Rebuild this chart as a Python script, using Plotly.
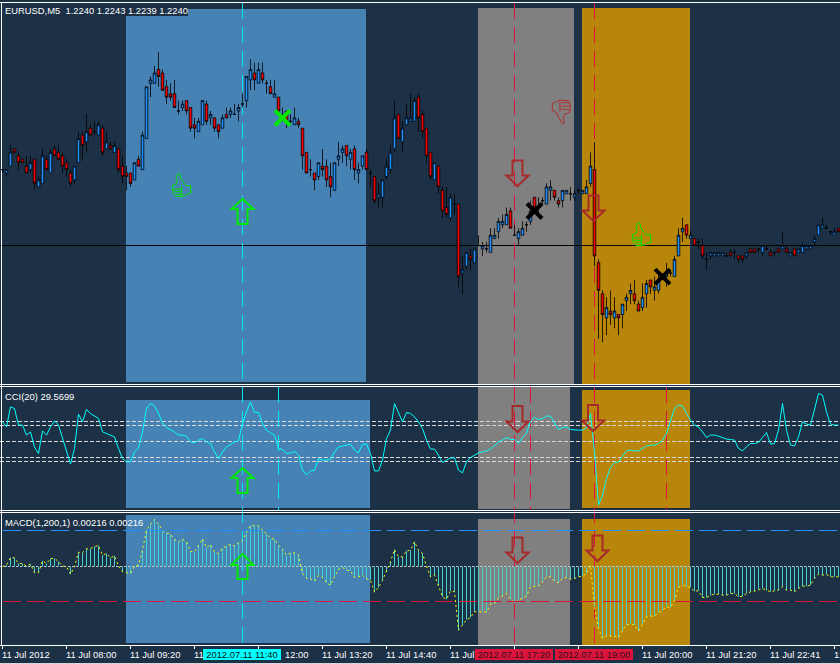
import numpy as np
import plotly.graph_objects as go

# ---------- data ----------
BASE_PRICE = 1.2240
open_pips = [22,21,23,28,26,25,23,22,25,17, 18,25,21,28,27,26,24,21,19,24, 32,30,34,33,32,34,28,29,27,28,
 23,21,21,19,25,22,31,47,47,51, 50,46,44,44,39,40,42,40,35,33, 35,41,37,37,35,34,38,38,38,39,
 41,42,48,50,47,50,47,46,43,43, 37,39,36,35,36,34,27,22,21,20, 23,23,20,16,25,27,29,25,28,21,
 23,27,21,20,14,14,20,22,28,38, 30,35,36,36,43,38,34,27,19,23, 16,11,8,12,12,-8,-6,-3,-5,0,
 -1,-1,-2,2,4,6,6,10,3,2, 3,6,7,14,11,13,12,16,16,13, 13,15,15,14,16,15,15,18,22,-5,
 -14,-21,-19,-21,-20,-20,-16,-14,-14,-17, -18,-14,-10,-13,-13,-9,-9,-8,-9,-3, 4,6,2,2,1,0,-4,-3,-3,-3,
 -3,-3,-2,-2,-3,-3,-3,-1,-1,-1, -2,-1,-2,-2,-1,-1,-1,-3,-1,-2, -2,-1,-1,1,3,5,5,4,3,5]
high_pips = [22,22,29,28,27,25,26,26,25,20, 28,26,28,29,29,27,25,22,23,33, 33,38,35,36,36,35,33,30,30,28,
 26,23,21,24,26,33,46,49,52,56, 51,48,47,48,42,42,42,40,37,37, 42,42,39,37,35,38,40,40,41,41,
 44,49,54,53,53,53,48,48,48,43, 40,39,38,40,37,34,27,25,21,24, 28,25,24,24,30,29,29,28,29,24,
 26,28,22,20,18,19,25,29,42,38, 36,41,44,43,44,39,34,27,24,23, 17,17,15,15,12,-3,-2,-1,-1,3,
 1,1,5,5,8,9,11,11,6,5, 7,7,13,14,14,14,18,19,16,14, 16,16,17,16,16,16,19,27,30,-4,
 -13,-15,-13,-15,-20,-17,-14,-11,-10,-16, -11,-10,-10,-9,-8,-8,-5,-7,-3,5, 8,6,4,2,2,2,-2,-2,-2,-2,
 -2,-2,-1,-1,-3,-3,-2,-1,-1,-1, 0,0,-1,-2,-1,4,0,-2,-1,-1, 1,0,0,3,6,8,6,4,5,5]
low_pips = [21,20,23,27,22,24,21,21,16,17, 18,22,21,26,25,21,20,17,18,24, 25,27,32,32,32,26,28,28,27,21,
 18,16,17,19,23,22,31,43,47,46, 45,41,42,40,38,39,38,33,31,33, 35,35,35,33,31,34,37,37,38,36,
 40,40,45,45,47,47,44,44,43,38, 36,34,35,35,34,22,21,20,16,19, 20,17,14,16,23,24,23,22,19,18,
 22,22,17,12,11,11,19,21,27,31, 27,35,36,36,33,31,24,19,19,15, 8,8,7,9,-12,-14,-7,-7,-5,0,
 -3,-2,-2,2,2,5,6,5,3,0, 3,4,6,11,9,12,12,13,13,11, 11,15,13,13,15,15,15,17,-6,-27,
 -28,-26,-23,-24,-26,-24,-19,-17,-17,-19, -19,-18,-14,-16,-14,-10,-12,-9,-9,-3, 1,2,2,0,-1,-4,-7,-4,-3,-3,
 -3,-3,-3,-4,-5,-5,-4,-2,-2,-2, -3,-1,-3,-3,-2,-1,-2,-3,-3,-2, -2,-1,-1,0,3,5,5,3,3,4]
close_pips = [22,22,27,27,24,24,21,24,18,19, 26,22,27,26,25,23,22,18,23,31, 29,33,32,33,35,27,30,28,29,22,
 20,20,18,24,23,32,46,48,50,49, 45,43,43,40,39,41,39,34,34,36, 42,36,38,34,33,37,37,39,38,40,
 41,49,51,48,51,48,47,44,44,39, 38,36,36,37,35,26,21,22,19,24, 22,19,17,24,26,28,26,27,22,22,
 26,22,21,13,15,19,23,27,37,31, 34,37,37,42,37,33,26,20,24,17, 10,9,14,12,-9,-7,-2,-4,-1,0,
 0,-1,3,3,7,7,9,5,3,4, 5,6,10,11,11,13,17,17,14,12, 16,16,15,15,16,16,17,23,-3,-13,
 -20,-18,-20,-19,-21,-17,-15,-13,-16,-19, -15,-11,-12,-12,-10,-9,-8,-8,-4,3, 5,3,3,0,1,-3,-4,-2,-2,-2,
 -2,-3,-3,-2,-4,-4,-2,-2,-2,-1, 0,-1,-3,-2,-2,0,-2,-2,-3,-1, 0,0,0,2,6,6,5,4,4,4]

cci = [98,73,173,165,82,82,32,48,-27,-60, 53,32,73,103,82,15,-43,-113,-35,137, 98,160,140,127,115,48,40,28,23,-35,
 -85,-102,-102,-52,-32,48,165,190,177,140, 93,70,60,48,32,32,27,-2,-7,7, 15,-2,-10,-52,-85,-52,-27,-13,-2,3,
 90,148,198,145,145,90,57,43,32,-35, -40,-60,-57,-50,-68,-143,-167,-147,-143,-85, -93,-93,-90,-52,-27,-23,-18,-13,-43,-57,
 -13,-13,-60,-147,-147,-93,15,57,190,140, 98,145,140,123,98,
 65,7,-38,-38,-68,-105,-93,-82,-82,-143, -157,-102,-80,-68,-57,-52,-47,-38,-22,-2, 7,20,10,10,-10,20,40,103,120,110,
 115,127,127,90,60,70,73,60,57,57, 57,68,140,-52,-318,-268,-185,-130,-107,-102, -73,-47,-43,-47,-47,-35,-23,-18,-18,-10,
 7,40,107,165,182,177,140,107,82,73, 48,20,32,32,27,20,12,10,7,-35, -47,-27,-10,-10,-5,20,45,-13,-10,57,
 190,57,-18,-22,23,98,87,82,157,240, 232,148,87,82,82]
cci_levels = [100, 80, 0, -80, -100]

macd = [0,4,27,26,9,9,1,7,-19,-19, 17,9,24,24,15,1,0,-23,-1,43, 41,53,54,60,63,34,39,26,32,1,
 -16,-19,-21,1,4,49,109,127,141,127, 109,101,97,81,74,82,74,45,44,64, 83,57,66,43,39,55,62,67,62,71,
 79,103,123,122,122,108,99,85,82,64, 52,34,41,41,34,-21,-36,-37,-44,-27, -33,-49,-56,-31,-9,-3,-11,-13,-33,-31,
 -26,-37,-41,-77,-63,-41,-16,14,51,29, 29,47,49,74,49,
 39,1,-31,-26,-56,-91,-98,-73,-76,-191, -176,-159,-153,-136,-136,-136,-137,-113,-111,-95,
 -89,-81,-98,-109,-101,-96,-89,-61,-59,-59, -46,-31,-31,-44,-49,-36,-33,-38,-36,-31,
 -29,-21,4,-121,-186,-216,-208,-209,-209,-213, -191,-176,-171,-176,-193,-173,-151,-149,-149,-138,
 -131,-121,-123,-101,-63,-56,-61,-63,-74,-73, -93,-93,-86,-83,-83,-86,-86,-81,-81,-91,
 -89,-81,-76,-74,-69,-66,-71,-76,-73,-71, -61,-71,-71,-76,-66,-59,-59,-56,-36,-23, -26,-24,-31,-31,-31]
macd_levels = [108, -105]

tick_bars = [0,16,32,48,64,80,96,112,128,144,160,176,192,208]
tick_text = {0:"11 Jul 2012",16:"11 Jul 08:00",32:"11 Jul 09:20",48:"11",80:"11 Jul 13:20",
             96:"11 Jul 14:40",112:"11 Jul",160:"11 Jul 20:00",176:"11 Jul 21:20",192:"11 Jul 22:41",208:"12"}
cross_bars = [70, 133, 165]
cross_pips = [36.8, 10.5, -8.8]
cross_colors = ["#00e800", "#000000", "#000000"]

n = len(open_pips)
assert all(len(a) == n for a in (high_pips, low_pips, close_pips, cci, macd)), (n, len(high_pips), len(low_pips), len(close_pips), len(cci), len(macd))
bars = list(range(n))

def price(a):
    return (BASE_PRICE + np.array(a, dtype=float) / 10000).round(4).tolist()

# ---------- page geometry ----------
W, H = 840, 664
FONT = "Liberation Sans"
BG = "#1c3046"
def px(x): return x / W
def py(y): return 1 - y / H
def dom(top, bot): return [py(bot), py(top)]

fig = go.Figure()

fig.add_trace(go.Candlestick(
    x=bars, open=price(open_pips), high=price(high_pips), low=price(low_pips), close=price(close_pips),
    xaxis="x", yaxis="y", whiskerwidth=0,
    increasing=dict(fillcolor="#1e90ff", line=dict(color="#000000", width=0.8)),
    decreasing=dict(fillcolor="#ff0000", line=dict(color="#000000", width=0.8)),
    showlegend=False, hoverinfo="skip"))
fig.add_trace(go.Scatter(x=bars, y=cci, xaxis="x", yaxis="y2", mode="lines",
                         line=dict(color="#00ffff", width=1), showlegend=False, hoverinfo="skip"))
fig.add_trace(go.Bar(x=bars, y=macd, xaxis="x", yaxis="y3", width=0.25,
                     marker=dict(color="#48d1cc", line=dict(width=0)), showlegend=False, hoverinfo="skip"))
fig.add_trace(go.Scatter(x=bars, y=macd, xaxis="x", yaxis="y3", mode="lines",
                         line=dict(color="#ffff00", width=1, dash="2px,3px"), showlegend=False, hoverinfo="skip"))
fig.add_trace(go.Scatter(x=cross_bars, y=price(cross_pips), xaxis="x", yaxis="y", mode="markers",
                         marker=dict(symbol="x-thin", size=15, line=dict(width=4, color=cross_colors)),
                         showlegend=False, hoverinfo="skip"))

shapes = []
def rect(x0, y0, x1, y1, color, layer="below"):
    shapes.append(dict(type="rect", xref="paper", yref="paper", x0=px(x0), x1=px(x1), y0=py(y0), y1=py(y1),
                       fillcolor=color, line=dict(width=0), layer=layer))
def line(x0, y0, x1, y1, color, dash="solid", width=1, layer="below"):
    shapes.append(dict(type="line", xref="paper", yref="paper", x0=px(x0), x1=px(x1), y0=py(y0), y1=py(y1),
                       line=dict(color=color, width=width, dash=dash), layer=layer))
def poly(pts, color, width=1, closed=True):
    d = "M" + " L".join(f"{px(x):.5f},{py(y):.5f}" for x, y in pts) + (" Z" if closed else "")
    shapes.append(dict(type="path", xref="paper", yref="paper", path=d,
                       line=dict(color=color, width=width), layer="above"))

# zones
BLUE, GRAY, GOLD = "#4682b4", "#808080", "#b8860b"
rect(126, 9, 366, 382, BLUE); rect(478, 8, 574, 384, GRAY); rect(582, 8, 690, 384, GOLD)
rect(126, 400, 370, 508, BLUE); rect(478, 387, 570, 509, GRAY); rect(582, 390, 690, 508, GOLD)
rect(126, 515, 370, 643, BLUE); rect(478, 519, 570, 645, GRAY); rect(582, 519, 690, 645, GOLD)

# horizontal levels
shapes.append(dict(type="line", xref="paper", x0=0, x1=1, yref="y", y0=BASE_PRICE, y1=BASE_PRICE,
                   line=dict(color="#000000", width=1), layer="below"))
for lv in cci_levels:
    shapes.append(dict(type="line", xref="paper", x0=0, x1=1, yref="y2", y0=lv, y1=lv,
                       line=dict(color="#d8d8d8", width=1, dash="4px,2px"), layer="below"))
shapes.append(dict(type="line", xref="paper", x0=0, x1=1, yref="y3", y0=0, y1=0,
                   line=dict(color="#c8c8c8", width=1, dash="2px,2px"), layer="below"))
for lv, col in zip(macd_levels, ["#1e90ff", "#dc143c"]):
    shapes.append(dict(type="line", xref="paper", x0=3/W, x1=1, yref="y3", y0=lv, y1=lv,
                       line=dict(color=col, width=1, dash="18px,6px"), layer="above"))

# vertical dashed markers
DASH = "16px,8px"
line(242.5, 3, 242.5, 645, "#00e8f0", DASH)
line(278.5, 387, 278.5, 510, "#00e8f0", DASH)
line(514.5, 3, 514.5, 645, "#dc143c", DASH)
line(594.5, 3, 594.5, 645, "#dc143c", DASH)
line(530.5, 387, 530.5, 510, "#dc143c", DASH)
line(666.5, 387, 666.5, 510, "#dc143c", DASH)

# frames
for y in (2.5, 384.5, 386.5, 510.5, 512.5, 645.5):
    line(0, y, 840, y, "#ffffff")
line(1.5, 2, 1.5, 646, "#ffffff")
rect(0, 663, 840, 664, "#d4d8dc", layer="above")

# arrows
def up(cx, tip, neck, bot, c="#00e800"):
    poly([(cx, tip), (cx+11, neck), (cx+5, neck), (cx+5, bot), (cx-5, bot), (cx-5, neck), (cx-11, neck)], c, 2)
def down(cx, top, neck, tip, c="#a52a2a"):
    poly([(cx-5, top), (cx+5, top), (cx+5, neck), (cx+11, neck), (cx, tip), (cx-11, neck), (cx-5, neck)], c, 2)
up(242.5, 199, 209, 224); up(242.5, 468, 478, 493); up(242.5, 554, 565, 579)
down(517.5, 160.5, 175.5, 186); down(593.5, 195.5, 210.5, 221)
down(517.5, 406, 421.5, 432); down(593, 405, 420.5, 431)
down(517.5, 537.5, 552.5, 563); down(597.5, 535.5, 550.5, 561)

# hands
def hand(ox, oy, outline, strokes, c):
    f = lambda p: (ox + p[0] / 3, oy + p[1] / 3)
    poly([f(p) for p in outline], c, 1)
    for s in strokes:
        poly([f(p) for p in s], c, 1, closed=False)
up_out = [(55,25),(60,28),(62,40),(72,55),(78,62),(92,62),(92,85),(80,88),(75,93),(48,95),(40,85),(37,62),(48,58),(52,50),(48,38)]
up_str = [[(40,72),(65,72)], [(43,80),(66,80)], [(48,88),(66,88)], [(65,62),(65,93)]]
hand(160, 165, up_out, up_str, "#00e800")
hand(620, 214, up_out, up_str, "#00e800")
dn_out = [(97,40),(120,30),(145,32),(152,48),(148,68),(135,72),(130,85),(133,100),(127,102),(115,80),(110,68),(97,62)]
dn_str = [[(125,38),(148,38)], [(122,48),(150,48)], [(125,58),(148,58)], [(120,33),(120,65)]]
hand(520, 90, dn_out, dn_str, "#b03030")

# text
anns = []
def txt(x, y, s, color="#ffffff", bg=None, xref="paper", w=None, align="left", size=9.4):
    a = dict(xref=xref, yref="paper", x=x if xref != "paper" else px(x), y=py(y), text=s, showarrow=False,
             xanchor="left", yanchor="middle", font=dict(family=FONT, size=size, color=color),
             borderpad=0, borderwidth=0)
    if bg: a["bgcolor"] = bg
    if w: a.update(width=w, height=11, align=align)
    anns.append(a)

txt(5, 10.5, "EURUSD,M5\u00a0\u00a01.2240 1.2243 1.2239 1.2240", bg=BG)
txt(5, 396, "CCI(20) 29.5699")
txt(5, 522, "MACD(1,200,1) 0.00216 0.00216")
for k, lab in tick_text.items():
    txt(k - 0.1, 654, lab, xref="x")
txt(284.5, 654, "12:00")
txt(203, 654, "2012.07.11 11:40", color="#101010", bg="#00ffff", w=78, align="center")
txt(475, 654, "2012.07.11 17:20", color="#301018", bg="#dc143c", w=78, align="center")
txt(555, 654, "2012.07.11 19:00", color="#301018", bg="#dc143c", w=78, align="center")

fig.update_layout(
    width=W, height=H, margin=dict(l=0, r=0, t=0, b=0), autosize=False,
    paper_bgcolor=BG, plot_bgcolor=BG, showlegend=False, barmode="overlay", boxgap=0.08,
    shapes=shapes, annotations=anns, hovermode=False,
    xaxis=dict(domain=[0, 1], range=[-0.625, 209.375], anchor="y3", showgrid=False, zeroline=False,
               showticklabels=False, ticks="outside", ticklen=3, tickcolor="#ffffff", tickwidth=1,
               tickmode="array", tickvals=tick_bars,
               rangeslider=dict(visible=False), showline=False),
    yaxis=dict(domain=dom(3, 384), range=[BASE_PRICE - 40.14e-4, BASE_PRICE + 70.29e-4], visible=False),
    yaxis2=dict(domain=dom(387, 510), range=[-342.5, 272.5], visible=False),
    yaxis3=dict(domain=dom(513, 645), range=[-235.5, 160.5], visible=False),
)

fig.write_html("out.html", config=dict(displayModeBar=False),
               post_script="document.body.style.margin='0';document.body.style.overflow='hidden';")
